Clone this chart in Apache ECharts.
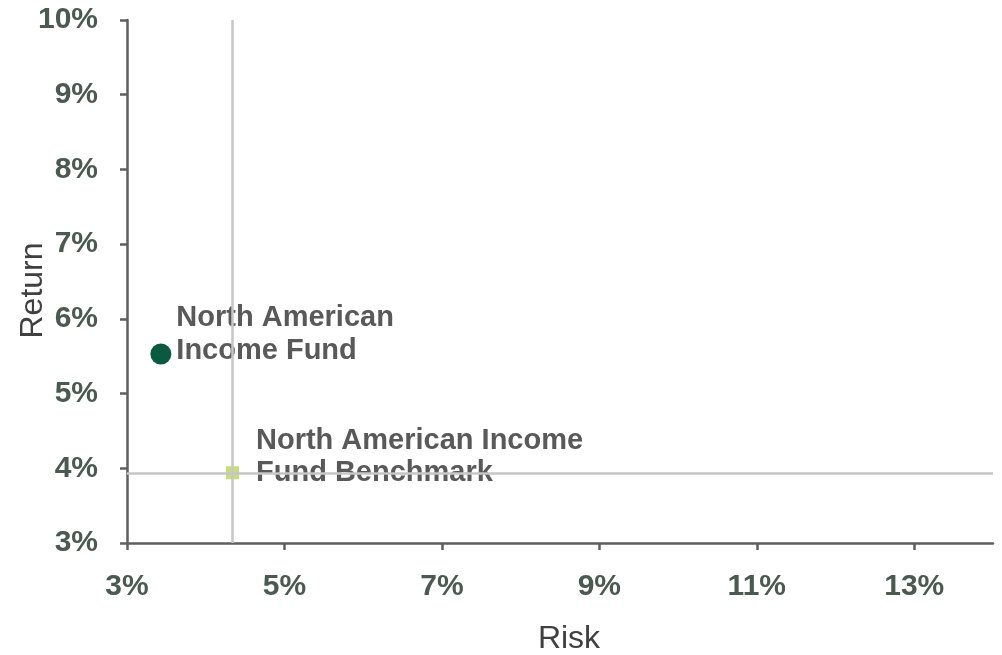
<!DOCTYPE html>
<html>
<head>
<meta charset="utf-8">
<script src="https://cdn.jsdelivr.net/npm/echarts@6/dist/echarts.min.js"></script>
<style>
html,body{margin:0;padding:0;background:#fff;}
#chart{width:1002px;height:655px;}
</style>
</head>
<body>
<div id="chart"></div>
<script>
// Data
const fundName = 'North American Income Fund';
const fundLabel = 'North American\nIncome Fund';
const fundPoint = [3.43, 5.53];           // [risk %, return %]
const benchName = 'North American Income Fund Benchmark';
const benchLabel = 'North American Income\nFund Benchmark';
const benchPoint = [4.34, 3.94];          // [risk %, return %]
const xTicks = [3, 5, 7, 9, 11, 13];
const yTicks = [3, 4, 5, 6, 7, 8, 9, 10];
const xRange = [3, 14];
const yRange = [3, 10];

const axisColor = '#5f5f5f';
const tickLabelColor = '#4b5a51';
const font = 'Liberation Sans, Arial, sans-serif';

const chart = echarts.init(document.getElementById('chart'), null, {renderer: 'canvas'});
chart.setOption({
  animation: false,
  backgroundColor: '#ffffff',
  grid: {left: 127, right: 9, top: 20, bottom: 112, containLabel: false, outerBoundsMode: 'none'},
  xAxis: {
    type: 'value',
    min: xRange[0], max: xRange[1],
    name: 'Risk',
    nameLocation: 'middle',
    nameGap: 80,
    nameTextStyle: {fontFamily: font, fontSize: 32, color: '#404040', padding: [0, 0, 0, 18]},
    splitLine: {show: false},
    axisLine: {show: true, onZero: false, lineStyle: {color: axisColor, width: 2.5}},
    axisTick: {show: true, length: 7, customValues: xTicks, lineStyle: {color: axisColor, width: 2.5}},
    axisLabel: {
      customValues: xTicks,
      margin: 29,
      fontFamily: font, fontSize: 30, fontWeight: 'bold', color: tickLabelColor,
      formatter: v => v + '%'
    }
  },
  yAxis: {
    type: 'value',
    min: yRange[0], max: yRange[1],
    name: 'Return',
    nameLocation: 'middle',
    nameGap: 78,
    nameMoveOverlap: false,
    nameTextStyle: {fontFamily: font, fontSize: 32, color: '#404040', padding: [0, 18, 0, 0]},
    splitLine: {show: false},
    axisLine: {show: true, onZero: false, lineStyle: {color: axisColor, width: 2.5}},
    axisTick: {show: true, length: 7, customValues: yTicks, lineStyle: {color: axisColor, width: 2.5}},
    axisLabel: {
      customValues: yTicks,
      margin: 29,
      fontFamily: font, fontSize: 30, fontWeight: 'bold', color: tickLabelColor,
      formatter: v => v + '%'
    }
  },
  series: [
    {
      name: benchName,
      type: 'scatter',
      symbol: 'rect',
      symbolSize: 13,
      z: 3,
      itemStyle: {color: '#c8dc78', opacity: 1},
      data: [benchPoint],
      label: {
        show: true, position: 'right', offset: [12, -16],
        formatter: benchLabel,
        fontFamily: font, fontSize: 29, fontWeight: 'bold', color: '#595959', lineHeight: 32
      },
      markLine: {
        silent: true,
        symbol: ['none', 'none'],
        label: {show: false},
        lineStyle: {color: '#c6c6c6', width: 2.5, type: 'solid', opacity: 1},
        data: [{xAxis: benchPoint[0]}, {yAxis: benchPoint[1]}]
      }
    },
    {
      name: fundName,
      type: 'scatter',
      symbol: 'circle',
      symbolSize: 21,
      z: 4,
      itemStyle: {color: '#0b5a3f', opacity: 1},
      data: [fundPoint],
      label: {
        show: true, position: 'right', offset: [0, -19],
        formatter: fundLabel,
        fontFamily: font, fontSize: 29, fontWeight: 'bold', color: '#595959', lineHeight: 33
      }
    }
  ]
});
</script>
</body>
</html>
